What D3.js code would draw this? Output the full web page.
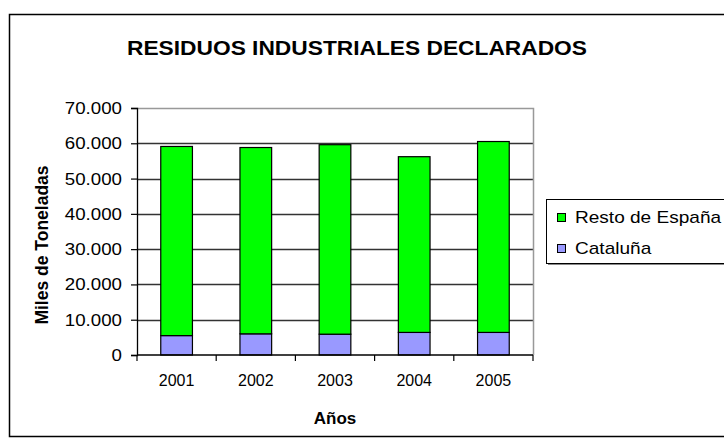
<!DOCTYPE html>
<html>
<head>
<meta charset="utf-8">
<script src="https://cdn.jsdelivr.net/npm/d3@7"></script>
<style>
  body { margin: 0; background: #fff; }
  svg text { font-family: Arial, "Liberation Sans", sans-serif; }
</style>
</head>
<body>
<svg id="chart" width="724" height="446"></svg>
<script>
// data
const years = ["2001", "2002", "2003", "2004", "2005"];
const cataluna = [5500, 6000, 5900, 6400, 6400];
const restoEspana = [53600, 52800, 53700, 49800, 54100];
const seriesNames = ["Resto de España", "Cataluña"];
const yTicks = [0, 10000, 20000, 30000, 40000, 50000, 60000, 70000];

// widen text a bit, the original is rendered wider than Arial
function stretch(sel, k) {
    sel.each(function () {
        let w = this.getComputedTextLength();
        d3.select(this)
            .attr("textLength", w * k)
            .attr("lengthAdjust", "spacingAndGlyphs");
    });
}

function chart() {
    let svg = d3.select("#chart");

    // outer chart border
    svg.append("rect")
        .attr("x", 9.5).attr("y", 14.5)
        .attr("width", 740).attr("height", 422)
        .attr("fill", "#fff")
        .attr("stroke", "#000")
        .attr("stroke-width", 1.5);

    let left = 137, right = 533, top = 108, bottom = 355;

    let x = d3.scaleBand()
        .domain(years)
        .range([left, right])
        .paddingInner(0.6)
        .paddingOuter(0.3);

    let y = d3.scaleLinear()
        .domain([0, 70000])
        .range([bottom, top]);

    // number format like 10.000
    let fmt = d => d3.format(",")(d).replace(/,/g, ".");

    // gridlines
    svg.append("g")
        .selectAll("line")
        .data(yTicks.filter(d => d > 0 && d < 70000))
        .enter()
        .append("line")
        .attr("x1", left).attr("x2", right)
        .attr("y1", d => Math.round(y(d)) + 0.5)
        .attr("y2", d => Math.round(y(d)) + 0.5)
        .attr("stroke", "#333")
        .attr("stroke-width", 1.4);

    // plot area border (top, right)
    svg.append("path")
        .attr("d", `M${left},${top + 0.5}H${right + 0.5}V${bottom}`)
        .attr("fill", "none")
        .attr("stroke", "#999")
        .attr("stroke-width", 1.5);

    // stacked bars
    let stackData = years.map((yr, i) => ({year: yr, cat: cataluna[i], resto: restoEspana[i]}));
    let stack = d3.stack().keys(["cat", "resto"])(stackData);
    let colors = {cat: "#9999ff", resto: "#00ff00"};

    svg.append("g")
        .selectAll("g")
        .data(stack)
        .enter()
        .append("g")
        .attr("fill", d => colors[d.key])
        .selectAll("rect")
        .data(d => d)
        .enter()
        .append("rect")
        .attr("x", d => x(d.data.year))
        .attr("y", d => y(d[1]))
        .attr("width", x.bandwidth())
        .attr("height", d => y(d[0]) - y(d[1]))
        .attr("stroke", "#000")
        .attr("stroke-width", 1.2);

    // y axis
    let yAxis = d3.axisLeft(y)
        .tickValues(yTicks)
        .tickFormat(fmt)
        .tickSize(6)
        .tickPadding(9);
    let gy = svg.append("g")
        .attr("transform", `translate(${left},0)`)
        .call(yAxis);
    gy.select(".domain").attr("stroke", "#000").attr("stroke-width", 1.3);
    gy.selectAll(".tick line").attr("stroke", "#000").attr("stroke-width", 1.2);
    gy.selectAll("text")
        .attr("font-size", 17)
        .attr("fill", "#000")
        .call(stretch, 1.1);

    // x axis with ticks between categories
    svg.append("line")
        .attr("x1", left).attr("x2", right)
        .attr("y1", bottom).attr("y2", bottom)
        .attr("stroke", "#000").attr("stroke-width", 1.5);
    let bounds = d3.range(years.length + 1).map(i => left + i * (right - left) / years.length);
    svg.append("g")
        .selectAll("line")
        .data(bounds)
        .enter()
        .append("line")
        .attr("x1", d => d).attr("x2", d => d)
        .attr("y1", bottom).attr("y2", bottom + 6)
        .attr("stroke", "#000").attr("stroke-width", 1.2);
    svg.append("g")
        .selectAll("text")
        .data(years)
        .enter()
        .append("text")
        .attr("x", d => x(d) + x.bandwidth() / 2)
        .attr("y", 386)
        .attr("text-anchor", "middle")
        .attr("font-size", 16)
        .text(d => d);

    // titles
    svg.append("text")
        .attr("x", 357).attr("y", 55)
        .attr("text-anchor", "middle")
        .attr("font-size", 20)
        .attr("font-weight", "bold")
        .text("RESIDUOS INDUSTRIALES DECLARADOS")
        .attr("textLength", 460)
        .attr("lengthAdjust", "spacingAndGlyphs");

    svg.append("text")
        .attr("x", 335).attr("y", 424)
        .attr("text-anchor", "middle")
        .attr("font-size", 17)
        .attr("font-weight", "bold")
        .text("Años");

    svg.append("text")
        .attr("transform", "translate(48,245) rotate(-90)")
        .attr("text-anchor", "middle")
        .attr("font-size", 17.5)
        .attr("font-weight", "bold")
        .text("Miles de Toneladas");

    // legend
    let lg = svg.append("g").attr("transform", "translate(546,199)");
    lg.append("rect")
        .attr("x", 2).attr("y", 2)
        .attr("width", 200).attr("height", 64)
        .attr("fill", "#888");
    lg.append("rect")
        .attr("x", 0.5).attr("y", 0.5)
        .attr("width", 200).attr("height", 64)
        .attr("fill", "#fff")
        .attr("stroke", "#000");
    let items = [{name: seriesNames[0], color: colors.resto}, {name: seriesNames[1], color: colors.cat}];
    let item = lg.selectAll("g.item")
        .data(items)
        .enter()
        .append("g")
        .attr("class", "item")
        .attr("transform", (d, i) => `translate(0,${i * 31})`);
    item.append("rect")
        .attr("x", 11.5).attr("y", 14.5)
        .attr("width", 8).attr("height", 8)
        .attr("fill", d => d.color)
        .attr("stroke", "#000");
    item.append("text")
        .attr("x", 29).attr("y", 24)
        .attr("font-size", 17)
        .text(d => d.name)
        .call(stretch, 1.12);
}

chart();
</script>
</body>
</html>
